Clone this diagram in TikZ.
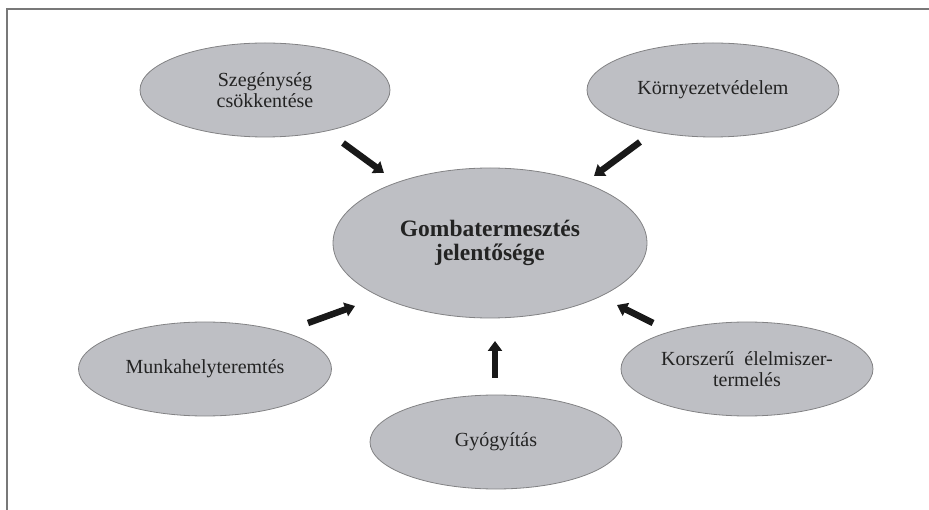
\documentclass[tikz,border=0pt]{standalone}
\usepackage{fontspec}
\setmainfont{Liberation Serif}
\usetikzlibrary{shapes.geometric,arrows.meta}
\definecolor{ellfill}{RGB}{190,191,196}
\definecolor{elldraw}{RGB}{130,130,132}
\definecolor{txt}{RGB}{35,35,35}
\definecolor{framec}{RGB}{120,120,120}
\tikzset{
  bubble/.style={ellipse, draw=elldraw, line width=0.8pt, fill=ellfill, inner sep=0pt,
    minimum width=252pt, minimum height=94pt, align=center, text=txt,
    font=\fontsize{20}{21}\selectfont},
  mainbubble/.style={bubble, minimum width=314pt, minimum height=150pt,
    font=\fontsize{23.5}{23.5}\selectfont\bfseries},
  bigarrow/.style={line width=6.5pt, draw=black!90, -{Triangle[width=14pt,length=10pt]}},
  frameline/.style={draw=framec, line width=1.3pt}
}
\begin{document}
\begin{tikzpicture}[x=1pt,y=-1pt]
\useasboundingbox (0,0) rectangle (929,510);
\coordinate (ftl) at (7,9);
\coordinate (ftr) at (929,9);
\coordinate (fbl) at (7,510);
\draw[frameline] (ftr) -- (ftl) -- (fbl);

\node[mainbubble] (main) at (490,243) {Gombatermesztés\\jelentősége};
\node[bubble, minimum width=250pt] (szeg) at (265,90) {Szegénység\\csökkentése};
\node[bubble] (korn) at (713,90) {Környezetvédelem};
\node[bubble, minimum width=253pt] (munka) at (205,369) {Munkahelyteremtés};
\node[bubble] (korsz) at (747,369) {Korszerű\ \ élelmiszer-\\termelés};
\node[bubble] (gyogy) at (496,442) {Gyógyítás};

\coordinate (a1t) at (343,143); \coordinate (a1h) at (384,173);
\coordinate (a2t) at (640,142); \coordinate (a2h) at (594,176);
\coordinate (a3t) at (308,323); \coordinate (a3h) at (355,306);
\coordinate (a4t) at (653,323); \coordinate (a4h) at (617,305);
\coordinate (a5t) at (495,378); \coordinate (a5h) at (495,341);
\draw[bigarrow] (a1t) -- (a1h);
\draw[bigarrow] (a2t) -- (a2h);
\draw[bigarrow] (a3t) -- (a3h);
\draw[bigarrow] (a4t) -- (a4h);
\draw[bigarrow] (a5t) -- (a5h);
\end{tikzpicture}
\end{document}
